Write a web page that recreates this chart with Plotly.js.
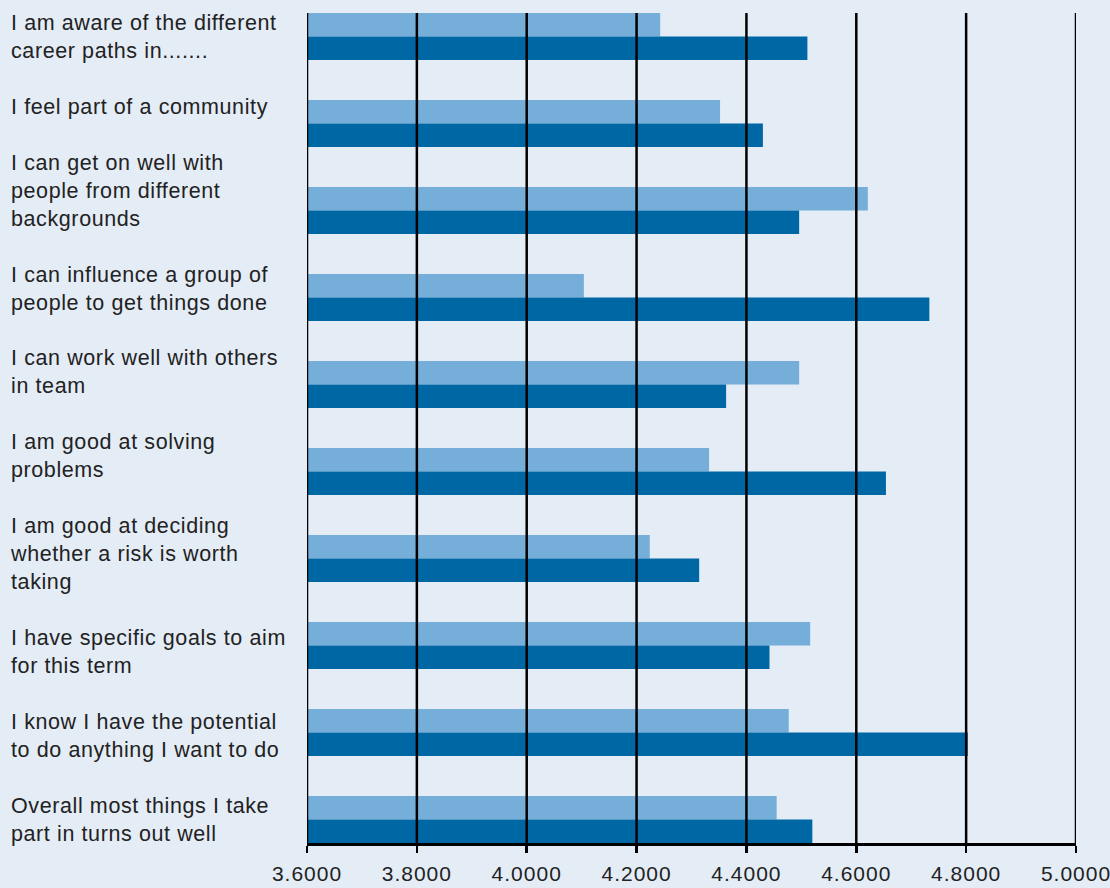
<!DOCTYPE html>
<html>
<head>
<meta charset="utf-8">
<script src="https://cdn.plot.ly/plotly-3.0.1.min.js"></script>
<style>
  html, body { margin: 0; padding: 0; background: #E4ECF6; }
  #chart { width: 1110px; height: 888px; }
  #chart .annotation-text { letter-spacing: 0.6px; }
  #chart .xtick text { letter-spacing: 1px; }
</style>
</head>
<body>
<div id="chart"></div>
<script>
// ---- data ----
const categories = [
  "I am aware of the different<br>career paths in.......",
  "I feel part of a community",
  "I can get on well with<br>people from different<br>backgrounds",
  "I can influence a group of<br>people to get things done",
  "I can work well with others<br>in team",
  "I am good at solving<br>problems",
  "I am good at deciding<br>whether a risk is worth<br>taking",
  "I have specific goals to aim<br>for this term",
  "I know I have the potential<br>to do anything I want to do",
  "Overall most things I take<br>part in turns out well"
];
const seriesLight = [4.243, 4.352, 4.621, 4.104, 4.496, 4.332, 4.224, 4.516, 4.477, 4.455];
const seriesDark  = [4.511, 4.430, 4.496, 4.733, 4.363, 4.654, 4.314, 4.442, 4.803, 4.520];
const tickVals = [3.6, 3.8, 4.0, 4.2, 4.4, 4.6, 4.8, 5.0];

// ---- chart ----
const FONT = "'Liberation Sans', Arial, sans-serif";
const traces = [
  {
    type: "bar", orientation: "h", name: "Light",
    y: categories.map((c, i) => i), x: seriesLight,
    marker: { color: "#74AED9", line: { width: 0 } },
    hoverinfo: "x"
  },
  {
    type: "bar", orientation: "h", name: "Dark",
    y: categories.map((c, i) => i), x: seriesDark,
    marker: { color: "#0067A5", line: { width: 0 } },
    hoverinfo: "x"
  }
];

const shapes = tickVals.map(v => ({
  type: "line", xref: "x", yref: "paper",
  x0: v, x1: v, y0: 0, y1: 1,
  line: { color: "#000000", width: 2.5 },
  layer: "above"
}));

const plotLeft = 307, plotWidth = 1110 - 307 - 34;
const annotations = [{
  xref: "paper", yref: "paper",
  x: (8 - plotLeft) / plotWidth, y: 1,
  xanchor: "left", yanchor: "top", align: "left",
  yshift: 4,
  showarrow: false,
  text: categories.join("<br><br>"),
  font: { family: FONT, size: 21.5, color: "#222222" }
}];

const layout = {
  width: 1110, height: 888,
  margin: { l: plotLeft, r: 34, t: 13, b: 45, pad: 0 },
  paper_bgcolor: "#E4ECF6",
  plot_bgcolor: "#E4ECF6",
  showlegend: false,
  barmode: "group",
  bargap: 0.46,
  bargroupgap: 0,
  xaxis: {
    range: [3.6, 5.0],
    tickvals: tickVals,
    tickformat: ".4f",
    showgrid: false,
    zeroline: false,
    showline: true, linecolor: "#000000", linewidth: 2.5,
    ticks: "outside", ticklen: 7, tickwidth: 2.5, tickcolor: "#000000",
    ticklabelstandoff: 3,
    tickfont: { family: FONT, size: 21, color: "#222222" },
    fixedrange: true
  },
  yaxis: {
    type: "linear",
    range: [categories.length - 1 + 0.27, -0.27],
    showticklabels: false,
    showgrid: false, zeroline: false, showline: false, ticks: "",
    fixedrange: true
  },
  shapes: shapes,
  annotations: annotations
};

Plotly.newPlot("chart", traces, layout, { displayModeBar: false, staticPlot: true });
</script>
</body>
</html>
